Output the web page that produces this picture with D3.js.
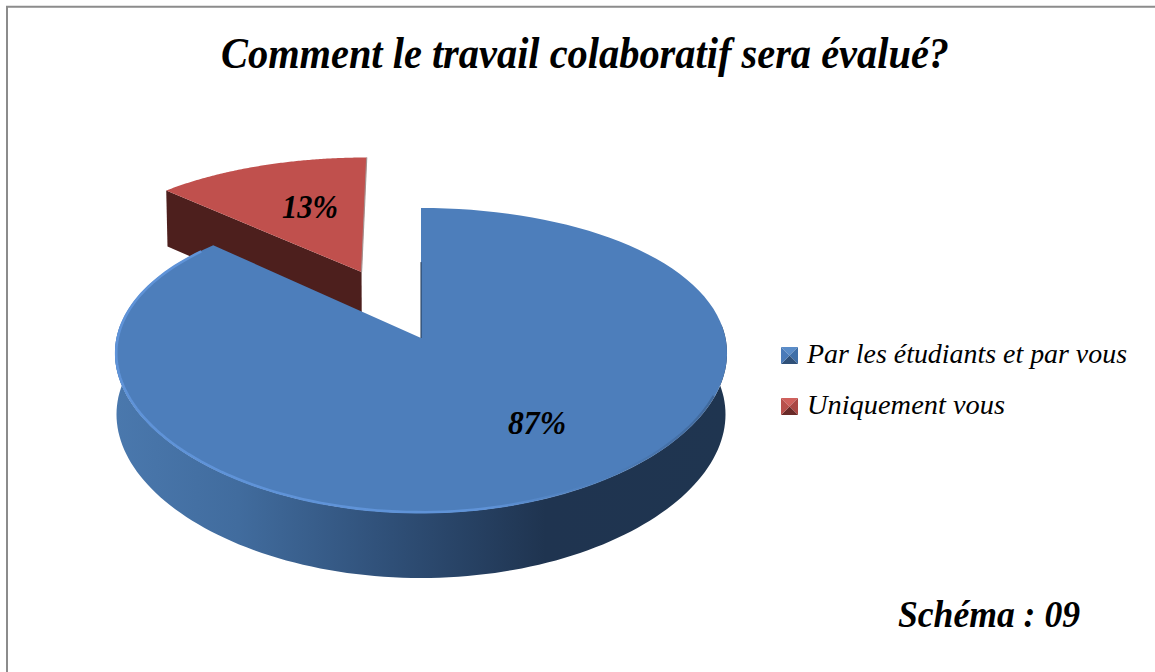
<!DOCTYPE html>
<html><head><meta charset="utf-8">
<script src="https://cdn.jsdelivr.net/npm/d3@7"></script>
<style>html,body{margin:0;padding:0;background:#fff;overflow:hidden}svg{display:block}text{font-family:"Liberation Serif",serif;font-style:italic;fill:#000}</style>
</head><body><svg id="c" width="1155" height="672"></svg>
<script>
const categories = ["Par les étudiants et par vous", "Uniquement vous"];
const values = [87, 13];
const titleText = "Comment le travail colaboratif sera évalué?";
const captionText = "Schéma : 09";
const topColors = ["#4d7ebb", "#c0504d"];
const explode = [0, 0.515];

const svg = d3.select("#c");
const defs = svg.append("defs");
const k = 0.1475, kx = 0.1, Rx = 304.5, Sy = 149.2, cx = 421, cy = 338;

function project(u, v, bottom) {
  let X = Rx * u / (1 - kx * v), Y = Sy * v / (1 - k * v);
  if (bottom) { X *= 0.995; Y += 60.8 + 4.2 * v; }
  return [cx + X, cy + Y];
}
const pie = d3.pie().sort(null).value(d => d);
const arcs = pie(values);
const rimAngles = (a0, a1) => d3.range(0, 121).map(i => a0 + (a1 - a0) * i / 120);
const line = d3.line();

function slicePt(d, i, ang, r, bottom) {
  const mid = (d.startAngle + d.endAngle) / 2;
  const ou = explode[i] * Math.sin(mid), ov = -explode[i] * Math.cos(mid);
  return project(r * Math.sin(ang) + ou, -r * Math.cos(ang) + ov, bottom);
}

const wallGrad = defs.append("linearGradient").attr("id", "wall").attr("gradientUnits", "userSpaceOnUse")
  .attr("x1", 115).attr("x2", 730).attr("y1", 0).attr("y2", 0);
[[0, "#4a78ad"], [0.2, "#416c9e"], [0.45, "#2f4f77"], [0.7, "#1f3450"], [1, "#1f3550"]].forEach(s =>
  wallGrad.append("stop").attr("offset", s[0]).attr("stop-color", s[1]));
const rimGrad = defs.append("linearGradient").attr("id", "rim").attr("gradientUnits", "userSpaceOnUse")
  .attr("x1", 115).attr("x2", 730).attr("y1", 0).attr("y2", 0);
[[0, "#5f93d8", 1], [0.6, "#5f93d8", 1], [0.8, "#4d7ebb", 0.5], [1, "#2f4d74", 0.5]].forEach(s =>
  rimGrad.append("stop").attr("offset", s[0]).attr("stop-color", s[1]).attr("stop-opacity", s[2]));
defs.append("filter").attr("id", "soft").append("feGaussianBlur").attr("stdDeviation", 0.7);

// Exploded slice: inner wall then top face
const red = arcs[1], blue = arcs[0];
const wallA = slicePt(red, 1, red.startAngle, 1), wallB = slicePt(red, 1, red.startAngle, 0);
const wallC = slicePt(red, 1, red.startAngle, 0, true), wallD = slicePt(red, 1, red.startAngle, 1, true);
svg.append("path").attr("d", line([wallA, wallB, wallC, wallD]) + "Z").attr("fill", "#4d1f1d");
const redPts = [slicePt(red, 1, 0, 0)].concat(rimAngles(red.startAngle, red.endAngle).map(a => slicePt(red, 1, a, 1)));
svg.append("path").attr("d", line(redPts) + "Z").attr("fill", topColors[1]);
// thin wall seen on the far right edge of the red slice
const e0 = slicePt(red, 1, red.endAngle, 0), e1 = slicePt(red, 1, red.endAngle, 1);
svg.append("path").attr("d", line([e0, e1])).attr("stroke", "#a5908f").attr("stroke-width", 1.2).attr("fill", "none");

// Main slice side wall (front half of the rim)
const front = rimAngles(Math.PI * 0.47, Math.PI * 1.53);
const wallTop = front.map(a => slicePt(blue, 0, a, 1));
const wallBot = front.map(a => slicePt(blue, 0, a, 1, true)).reverse();
svg.append("path").attr("d", line(wallTop.concat(wallBot)) + "Z").attr("fill", "url(#wall)");

// Main slice top face
const bluePts = [slicePt(blue, 0, 0, 0)].concat(rimAngles(blue.startAngle, blue.endAngle).map(a => slicePt(blue, 0, a, 1)));
svg.append("path").attr("d", line(bluePts) + "Z").attr("fill", topColors[0]);
// lit bevel along the front rim
const bevel = rimAngles(Math.PI * 0.62, Math.PI * 1.72).map(a => slicePt(blue, 0, a, 0.996));
svg.append("path").attr("d", line(bevel)).attr("fill", "none").attr("stroke", "url(#rim)")
  .attr("stroke-width", 2.6).attr("filter", "url(#soft)");
// dark seam on the vertical cut
const seam = [slicePt(blue, 0, 0, 0), slicePt(blue, 0, 0, 0.55)];
svg.append("path").attr("d", line(seam)).attr("stroke", "#1f3550").attr("stroke-width", 1).attr("fill", "none");

// Frame
svg.append("path").attr("d", "M7,672V6.7H1155").attr("fill", "none").attr("stroke", "#8c8c8c").attr("stroke-width", 2);

// Texts
function txt(s, x, y, size, len, bold) {
  svg.append("text").attr("x", x).attr("y", y).attr("font-size", size)
    .attr("font-weight", bold ? 700 : 400).attr("textLength", len)
    .attr("lengthAdjust", "spacingAndGlyphs").text(s);
}
txt(titleText, 221, 68, 44, 728, true);
txt(captionText, 898, 627, 38, 182, true);
const pct = d3.format(".0%"), total = d3.sum(values);
txt(pct(values[0] / total), 508, 434, 33, 58, true);
txt(pct(values[1] / total), 282, 218, 33, 56, true);

// Legend with pyramid-bevel swatches
const legendY = d3.scalePoint().domain(categories).range([347, 398]);
const legendLen = [320, 198];
const swatch = [
  {t: "#5a8cc8", l: "#4a7ab8", r: "#3f6fa8", b: "#2f5078"},
  {t: "#d0605c", l: "#b84f4b", r: "#aa4744", b: "#6a2a28"}
];
categories.forEach((c, i) => {
  const y = legendY(c), x = 781, s = 17, m = [x + s / 2, y + s / 2], col = swatch[i];
  const tl = [x, y], tr = [x + s, y], br = [x + s, y + s], bl = [x, y + s];
  [[tl, tr, col.t], [tr, br, col.r], [br, bl, col.b], [bl, tl, col.l]].forEach(f =>
    svg.append("path").attr("d", line([f[0], f[1], m]) + "Z").attr("fill", f[2]));
  txt(c, 807, y + 16, 27, legendLen[i], false);
});
</script></body></html>
